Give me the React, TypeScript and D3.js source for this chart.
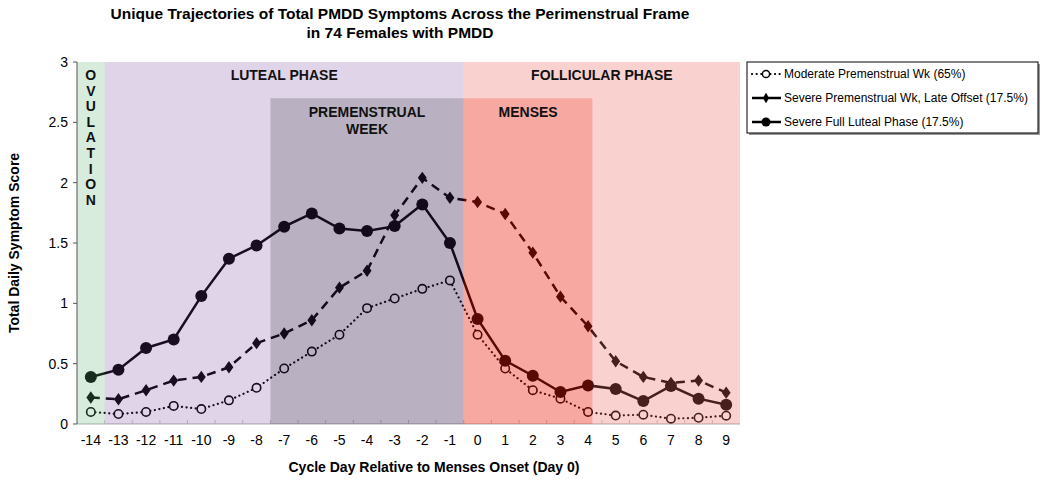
import React, { useEffect, useRef } from 'react'
import * as d3 from 'd3'

// cycle days relative to menses onset
const days = [-14, -13, -12, -11, -10, -9, -8, -7, -6, -5, -4, -3, -2, -1, 0, 1, 2, 3, 4, 5, 6, 7, 8, 9]

const moderate = [0.10, 0.083, 0.10, 0.15, 0.124, 0.196, 0.30, 0.46, 0.60, 0.74, 0.96, 1.04, 1.12, 1.19,
  0.74, 0.46, 0.28, 0.21, 0.10, 0.07, 0.077, 0.044, 0.052, 0.069]
const lateOffset = [0.22, 0.205, 0.28, 0.36, 0.39, 0.47, 0.67, 0.75, 0.86, 1.13, 1.27, 1.73, 2.04, 1.875,
  1.84, 1.74, 1.42, 1.055, 0.81, 0.52, 0.39, 0.34, 0.36, 0.26]
const fullLuteal = [0.39, 0.45, 0.63, 0.70, 1.06, 1.37, 1.48, 1.635, 1.745, 1.62, 1.60, 1.64, 1.82, 1.50,
  0.87, 0.525, 0.40, 0.265, 0.32, 0.29, 0.19, 0.315, 0.21, 0.16]

const seriesNames = [
  'Moderate Premenstrual Wk (65%)',
  'Severe Premenstrual Wk, Late Offset (17.5%)',
  'Severe Full Luteal Phase (17.5%)',
]
const yTicks = [0, 0.5, 1, 1.5, 2, 2.5, 3]

// phase shading: x in band units from the left edge, y in score units
const phases = [
  { name: 'ovulation', x0: 0, x1: 1, y0: 0, y1: 3, color: [215, 236, 221], alpha: 0.25 },
  { name: 'luteal-a', x0: 1, x1: 7, y0: 0, y1: 3, color: [224, 212, 233], alpha: 0.22 },
  { name: 'luteal-b', x0: 7, x1: 14, y0: 2.7, y1: 3, color: [224, 212, 233], alpha: 0.22 },
  { name: 'premenstrual', x0: 7, x1: 14, y0: 0, y1: 2.7, color: [185, 177, 193], alpha: 0.35 },
  { name: 'menses', x0: 14, x1: 18.66, y0: 0, y1: 2.7, color: [247, 168, 160], alpha: 0.38 },
  { name: 'follic-a', x0: 14, x1: 24, y0: 2.7, y1: 3, color: [249, 210, 208], alpha: 0.3 },
  { name: 'follic-b', x0: 18.66, x1: 24, y0: 0, y1: 2.7, color: [249, 210, 208], alpha: 0.3 },
]

const overlay = (c: number[], a: number) =>
  'rgb(' + c.map(v => Math.max(0, Math.round(255 - (255 - v) / a))).join(',') + ')'

const FONT = 'Arial, "Liberation Sans", Helvetica, sans-serif'

export default function App() {
  const ref = useRef<SVGSVGElement>(null)

  useEffect(() => {
    const svg = d3.select(ref.current)
    svg.selectAll('*').remove()

    const margin = { top: 62, left: 77 }
    const width = 663
    const height = 362

    const g = svg.append('g').attr('transform', `translate(${margin.left},${margin.top})`)

    const x = d3.scaleBand<number>().domain(days).range([0, width]).padding(0)
    const bw = x.bandwidth()
    const y = d3.scaleLinear().domain([0, 3]).range([height, 0])
    const cx = (d: number) => (x(d) as number) + bw / 2

    // x axis line + inward ticks at band boundaries
    g.append('line').attr('x1', 0).attr('x2', width).attr('y1', height).attr('y2', height)
      .attr('stroke', '#c8c8c8').attr('stroke-width', 1.5)
    for (let i = 1; i < days.length; i++) {
      g.append('line').attr('x1', i * bw).attr('x2', i * bw).attr('y1', height).attr('y2', height - 4)
        .attr('stroke', '#c8c8c8')
    }

    const line = d3.line<number>().x((d, i) => cx(days[i])).y(d => y(d))

    // moderate: dotted, open circles
    g.append('path').attr('d', line(moderate)).attr('fill', 'none').attr('stroke', '#000')
      .attr('stroke-width', 2.2).attr('stroke-dasharray', '0.1,4.5').attr('stroke-linecap', 'round')
    // late offset: dashed, diamonds
    g.append('path').attr('d', line(lateOffset)).attr('fill', 'none').attr('stroke', '#000')
      .attr('stroke-width', 2.5).attr('stroke-dasharray', '9,6')
    // full luteal: solid, filled circles
    g.append('path').attr('d', line(fullLuteal)).attr('fill', 'none').attr('stroke', '#000')
      .attr('stroke-width', 2.5)

    moderate.forEach((v, i) => {
      g.append('circle').attr('cx', cx(days[i])).attr('cy', y(v)).attr('r', 4.2)
        .attr('fill', '#fff').attr('stroke', '#000').attr('stroke-width', 1.6)
    })
    const diamond = d3.symbol().type(d3.symbolDiamond).size(44)
    lateOffset.forEach((v, i) => {
      g.append('path').attr('d', diamond()).attr('transform', `translate(${cx(days[i])},${y(v)}) scale(1.25,1)`)
        .attr('fill', '#000')
    })
    fullLuteal.forEach((v, i) => {
      g.append('circle').attr('cx', cx(days[i])).attr('cy', y(v)).attr('r', 6).attr('fill', '#000')
    })

    // semi-transparent phase shading over the lines
    g.selectAll('.phase').data(phases).enter().append('rect')
      .attr('x', d => d.x0 * bw).attr('width', d => (d.x1 - d.x0) * bw)
      .attr('y', d => y(d.y1)).attr('height', d => y(d.y0) - y(d.y1))
      .attr('fill', d => overlay(d.color, d.alpha)).attr('fill-opacity', d => d.alpha)

    // y axis
    g.append('line').attr('x1', 0).attr('x2', 0).attr('y1', 0).attr('y2', height)
      .attr('stroke', '#555').attr('stroke-width', 1)
    yTicks.forEach(t => {
      g.append('line').attr('x1', -4).attr('x2', 0).attr('y1', y(t)).attr('y2', y(t)).attr('stroke', '#555')
      g.append('text').attr('x', -9).attr('y', y(t)).attr('dy', '0.35em').attr('text-anchor', 'end')
        .style('font', `14px ${FONT}`).text(String(t))
    })

    // x tick labels
    days.forEach(d => {
      g.append('text').attr('x', cx(d)).attr('y', height + 21).attr('text-anchor', 'middle')
        .style('font', `14px ${FONT}`).text(String(d))
    })

    // phase labels
    const lbl = (txt: string, px: number, py: number) =>
      g.append('text').attr('x', px).attr('y', py).attr('text-anchor', 'middle')
        .style('font', `bold 14px ${FONT}`).attr('fill', '#111').text(txt)
    lbl('LUTEAL PHASE', 7.5 * bw, 18)
    lbl('PREMENSTRUAL', 10.5 * bw, 55)
    lbl('WEEK', 10.5 * bw, 72)
    lbl('MENSES', 16.33 * bw, 55)
    lbl('FOLLICULAR PHASE', 19 * bw, 18)
    'OVULATION'.split('').forEach((c, i) => lbl(c, 0.5 * bw, 18 + i * 15.6))

    // title and axis titles
    const title = svg.append('text').attr('text-anchor', 'middle').style('font', `bold 15.5px ${FONT}`)
    title.append('tspan').attr('x', 400).attr('y', 19).text('Unique Trajectories of Total PMDD Symptoms Across the Perimenstrual Frame')
    title.append('tspan').attr('x', 400).attr('y', 38).text('in 74 Females with PMDD')

    svg.append('text').attr('transform', 'translate(19,243) rotate(-90)').attr('text-anchor', 'middle')
      .style('font', `bold 14px ${FONT}`).text('Total Daily Symptom Score')
    svg.append('text').attr('x', 434).attr('y', 472).attr('text-anchor', 'middle')
      .style('font', `bold 14px ${FONT}`).text('Cycle Day Relative to Menses Onset (Day 0)')

    // legend
    const lg = svg.append('g').attr('transform', 'translate(747,62)')
    lg.append('rect').attr('x', 2).attr('y', 2).attr('width', 291).attr('height', 71).attr('fill', '#999')
    lg.append('rect').attr('width', 291).attr('height', 71).attr('fill', '#fff').attr('stroke', '#000')
    const rows = [
      { dash: '0.1,4.5', cap: 'round', w: 2.2 },
      { dash: null, cap: 'butt', w: 2.5 },
      { dash: null, cap: 'butt', w: 2.5 },
    ]
    rows.forEach((r, i) => {
      const ry = 12 + i * 24
      lg.append('line').attr('x1', 5).attr('x2', 34).attr('y1', ry).attr('y2', ry)
        .attr('stroke', '#000').attr('stroke-width', r.w).attr('stroke-dasharray', r.dash)
        .attr('stroke-linecap', r.cap)
      if (i === 0) {
        lg.append('circle').attr('cx', 19).attr('cy', ry).attr('r', 3.6).attr('fill', '#fff')
          .attr('stroke', '#000').attr('stroke-width', 1.5)
      } else if (i === 1) {
        lg.append('path').attr('d', d3.symbol().type(d3.symbolDiamond).size(32)())
          .attr('transform', `translate(19,${ry})`).attr('fill', '#000')
      } else {
        lg.append('circle').attr('cx', 19).attr('cy', ry).attr('r', 4.5).attr('fill', '#000')
      }
      lg.append('text').attr('x', 37).attr('y', ry).attr('dy', '0.35em')
        .style('font', `12px ${FONT}`).text(seriesNames[i])
    })
  }, [])

  return (
    <svg ref={ref} width={1050} height={487}
      style={{ position: 'absolute', left: 0, top: 0, background: '#fff' }} />
  )
}
